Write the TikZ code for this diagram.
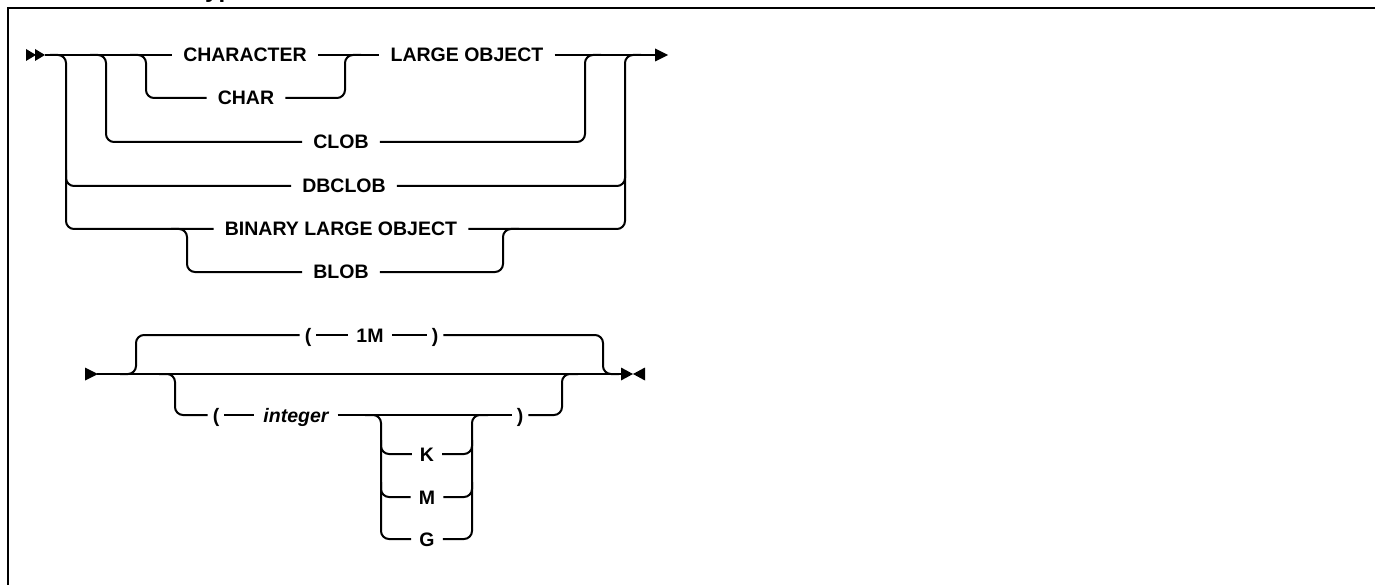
\documentclass[tikz,border=0pt]{standalone}
\usepackage{fontspec}
\setmainfont{Liberation Sans}
\begin{document}
\begin{tikzpicture}[x=1pt,y=-1pt,
  ln/.style={line width=2pt, rounded corners=8pt},
  tok/.style={font=\fontsize{19.5}{23}\selectfont\bfseries, inner xsep=11pt, inner ysep=0pt, text height=14pt, text depth=0pt, anchor=center},
  par/.style={tok, inner xsep=5pt},
  sm/.style={tok, inner xsep=8pt},
  tip/.style={fill=black}]
\useasboundingbox (0,0) rectangle (1375,585);
\clip (0,0) rectangle (1375,585);
% title fragment and frame
\node[font=\fontsize{24}{28}\selectfont\bfseries, anchor=base west, inner sep=0pt] (title) at (197,-2) {type};
\draw[line width=2.5pt] (8,600) -- (8,8) -- (1390,8);

% ---------------- upper diagram ----------------
\coordinate (s1) at (45,55);
\coordinate (e1) at (655,55);
\fill[tip] (26,49) -- (36,55) -- (26,61) -- cycle;
\fill[tip] (35,49) -- (45,55) -- (35,61) -- cycle;
\fill[tip] (655,48.5) -- (668,55) -- (655,61.5) -- cycle;

\node[tok] (character) at (245,55) {CHARACTER};
\node[tok] (lob) at (467,55) {LARGE OBJECT};
\node[tok] (char) at (246,98) {CHAR};
\node[tok] (clob) at (341,142) {CLOB};
\node[tok] (dbclob) at (344,186) {DBCLOB};
\node[tok] (blo) at (341,229) {BINARY LARGE OBJECT};
\node[tok] (blob) at (341,272) {BLOB};

\draw[line width=2pt] (s1) -- (character.west);
\draw[line width=2pt] (character.east) -- (lob.west);
\draw[line width=2pt] (lob.east) -- (e1);

% left branches
\draw[ln] (50,55) -- (66,55) -- (66,229) -- (blo.west);
\draw[ln] (66,170) -- (66,186) -- (dbclob.west);
\draw[ln] (90,55) -- (106,55) -- (106,142) -- (clob.west);
\draw[ln] (130,55) -- (146,55) -- (146,98) -- (char.west);
% right joins
\draw[ln] (char.east) -- (345,98) -- (345,55) -- (361,55);
\draw[ln] (clob.east) -- (585,142) -- (585,55) -- (601,55);
\draw[ln] (dbclob.east) -- (625,186) -- (625,170);
\draw[ln] (blo.east) -- (625,229) -- (625,55) -- (641,55);
% BLOB branch
\draw[ln] (171,229) -- (187,229) -- (187,272) -- (blob.west);
\draw[ln] (blob.east) -- (503,272) -- (503,229) -- (519,229);

% ---------------- lower diagram ----------------
\coordinate (s2) at (97,374);
\coordinate (e2) at (623,374);
\fill[tip] (85,367.5) -- (98,374) -- (85,380.5) -- cycle;
\fill[tip] (621,367.5) -- (633,374) -- (621,380.5) -- cycle;
\fill[tip] (645,367.5) -- (633,374) -- (645,380.5) -- cycle;
\draw[line width=2pt] (s2) -- (e2);

% default ( 1M )
\node[par] (lp1) at (308,335) {(};
\node[sm] (onem) at (370,335) {1M};
\node[par] (rp1) at (435,335) {)};
\draw[ln] (120,374) -- (136,374) -- (136,335) -- (lp1.west);
\draw[line width=2pt] (lp1.east) -- (onem.west);
\draw[line width=2pt] (onem.east) -- (rp1.west);
\draw[ln] (rp1.east) -- (603,335) -- (603,374) -- (619,374);

% ( integer K|M|G )
\node[par] (lp2) at (216,415) {(};
\node[tok, font=\fontsize{19.5}{23}\selectfont\bfseries\itshape, inner xsep=9pt] (int) at (296,415) {integer};
\node[par] (rp2) at (520,415) {)};
\draw[ln] (159,374) -- (175,374) -- (175,415) -- (lp2.west);
\draw[line width=2pt] (lp2.east) -- (int.west);
\draw[line width=2pt] (int.east) -- (rp2.west);
\draw[ln] (rp2.east) -- (562,415) -- (562,374) -- (578,374);

\node[sm] (k) at (427,454) {K};
\node[sm] (m) at (427,497) {M};
\node[sm] (g) at (427,539) {G};
\draw[ln] (365,415) -- (381,415) -- (381,539) -- (g.west);
\draw[ln] (381,440) -- (381,454) -- (k.west);
\draw[ln] (381,482) -- (381,497) -- (m.west);
\draw[ln] (g.east) -- (472,539) -- (472,415) -- (488,415);
\draw[ln] (k.east) -- (472,454) -- (472,440);
\draw[ln] (m.east) -- (472,497) -- (472,482);
\end{tikzpicture}
\end{document}
